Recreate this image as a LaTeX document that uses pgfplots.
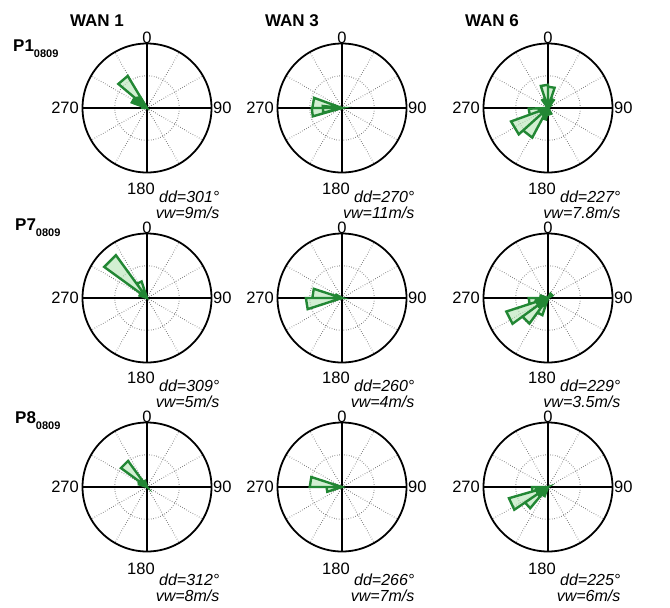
\documentclass[border=0pt]{standalone}
\usepackage{fontspec}
\setmainfont{Liberation Sans}
\usepackage{pgfplots}
\usepgfplotslibrary{polar}
\pgfplotsset{compat=1.18}
\definecolor{rosegreen}{RGB}{34,135,52}
\definecolor{rosefill}{RGB}{180,228,180}
\pgfplotsset{rose/.style={
  scale only axis, width=129pt, height=129pt,
  xmin=0, xmax=360, ymin=0, ymax=1,
  xtick={0,30,...,330}, xticklabels={},
  ytick={0.5}, yticklabels={},
  grid=major,
  major grid style={dotted, black!70, line width=1pt},
  axis line style={line width=1.8pt, black},
  major tick length=0pt,
  anchor=center, clip=false,
}}
\tikzset{
  petal/.style={draw=rosegreen, line width=2.4pt, fill=rosefill, fill opacity=0.6, line join=miter},
  core/.style={draw=rosegreen, line width=2pt, fill=rosegreen, line join=round},
  lab/.style={inner sep=0pt, font=\fontsize{16.5}{19}\selectfont},
  ital/.style={inner sep=0pt, font=\fontsize{16}{19}\selectfont\itshape},
}
% #1 cx  #2 cy (down)  #3 petals  #4 core  #5 dd  #6 vw  #7 offset of 180 #8 offset of dd
\newcommand{\panel}[8]{%
\begin{polaraxis}[rose, at={(#1pt,-#2pt)}]
\draw[line width=1.7pt] (axis cs:0,1) -- (axis cs:180,1) (axis cs:90,1) -- (axis cs:270,1);
\addplot[petal] coordinates {#3};
\addplot[core] coordinates {#4};
\end{polaraxis}
\node[lab, anchor=south] at (#1pt,-#2pt+64pt) {0};
\node[lab, anchor=west] at (#1pt+66pt,-#2pt) {90};
\node[lab, anchor=east] at (#1pt-68pt,-#2pt) {270};
\node[lab] (a) at (#1pt-6pt,-#2pt-#7pt) {180};
\node[ital, anchor=west] (b) at ([xshift=4pt]a.east |- 0,-#2pt-#8pt) {dd=#5°};
\node[ital, anchor=north east] at ([yshift=-3.5pt]b.south east) {vw=#6};
}
\begin{document}
\begin{tikzpicture}
\path[use as bounding box] (0,0) rectangle (670pt,-608pt);
% column titles
\node[inner sep=0pt, font=\fontsize{17}{20}\selectfont\bfseries] at (97pt,-21pt) {WAN 1};
\node[inner sep=0pt, font=\fontsize{17}{20}\selectfont\bfseries] at (292pt,-21pt) {WAN 3};
\node[inner sep=0pt, font=\fontsize{17}{20}\selectfont\bfseries] at (492pt,-21pt) {WAN 6};
% row titles
\node[inner sep=0pt, anchor=west, font=\fontsize{17}{20}\selectfont\bfseries] at (13pt,-49pt) {P1\raisebox{-6pt}{\fontsize{11}{12}\selectfont 0809}};
\node[inner sep=0pt, anchor=west, font=\fontsize{17}{20}\selectfont\bfseries] at (15pt,-228pt) {P7\raisebox{-6pt}{\fontsize{11}{12}\selectfont 0809}};
\node[inner sep=0pt, anchor=west, font=\fontsize{17}{20}\selectfont\bfseries] at (15pt,-421pt) {P8\raisebox{-6pt}{\fontsize{11}{12}\selectfont 0809}};

% Row 1
\panel{147}{108}
 {(0,0) (140,0.58) (121,0.58) (0,0) (160,0.25) (140,0.25) (0,0)}
 {(0,0) (160,0.22) (140,0.24) (121,0.2) (0,0) (180,0.08) (160,0.08) (0,0)}
 {301}{9m/s}{81}{89}
\panel{342}{108}
 {(0,0) (180,0.46) (160,0.46) (0,0) (196,0.47) (180,0.47) (0,0) (194,0.3) (174,0.3) (0,0)}
 {(0,0) (185,0.12) (165,0.12) (0,0)}
 {270}{11m/s}{81}{89}
\panel{548}{108}
 {(0,0) (108,0.36) (90,0.36) (0,0) (90,0.33) (72,0.33) (0,0) (72,0.15) (54,0.15) (0,0) (126,0.15) (108,0.15) (0,0)
  (222,0.61) (200,0.61) (0,0) (242,0.52) (222,0.52) (0,0) (200,0.3) (182,0.3) (0,0) (260,0.18) (242,0.18) (0,0) (300,0.1) (280,0.1) (0,0)}
 {(0,0) (250,0.15) (190,0.15) (0,0) (110,0.12) (70,0.12) (0,0)}
 {227}{7.8m/s}{81}{89}
% Row 2
\panel{147}{298}
 {(0,0) (144,0.82) (126,0.82) (0,0) (126,0.27) (108,0.27) (0,0) (162,0.12) (144,0.12) (0,0)}
 {(0,0) (150,0.12) (110,0.12) (0,0)}
 {309}{5m/s}{80}{88}
\panel{342}{298}
 {(0,0) (180,0.46) (162,0.46) (0,0) (198,0.56) (180,0.56) (0,0) (162,0.1) (150,0.1) (0,0)}
 {(0,0) (195,0.1) (160,0.1) (0,0)}
 {260}{4m/s}{80}{88}
\panel{548}{298}
 {(0,0) (216,0.68) (198,0.68) (0,0) (234,0.49) (216,0.49) (0,0) (252,0.28) (234,0.28) (0,0) (198,0.3) (180,0.3) (0,0) (180,0.12) (162,0.12) (0,0) (60,0.08) (30,0.08) (0,0)}
 {(0,0) (225,0.2) (190,0.2) (0,0) (250,0.14) (225,0.14) (0,0)}
 {229}{3.5m/s}{80}{88}
% Row 3
\panel{147}{487}
 {(0,0) (144,0.5) (126,0.5) (0,0) (162,0.13) (144,0.13) (0,0) (126,0.1) (108,0.1) (0,0)}
 {(0,0) (155,0.15) (125,0.15) (0,0)}
 {312}{8m/s}{82}{93}
\panel{342}{487}
 {(0,0) (180,0.5) (162,0.5) (0,0) (198,0.24) (180,0.24) (0,0)}
 {(0,0) (195,0.08) (165,0.08) (0,0)}
 {266}{7m/s}{82}{93}
\panel{548}{487}
 {(0,0) (214,0.63) (196,0.63) (0,0) (230,0.43) (214,0.43) (0,0) (196,0.25) (180,0.25) (0,0) (250,0.15) (230,0.15) (0,0)}
 {(0,0) (230,0.2) (190,0.2) (0,0)}
 {225}{6m/s}{82}{93}
\end{tikzpicture}
\end{document}
